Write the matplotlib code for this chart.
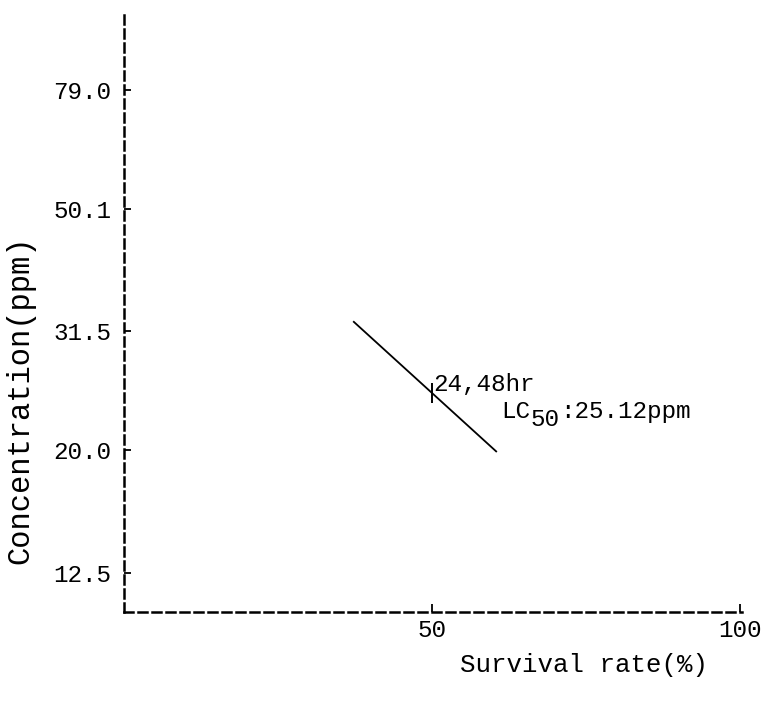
import matplotlib
matplotlib.use('Agg')
import matplotlib.pyplot as plt
import numpy as np

plt.rcParams['font.family'] = ['Liberation Mono', 'DejaVu Sans Mono']

# data
survival = [37.3, 60.4]          # %
conc = [32.6, 19.9]              # ppm
lc50_x = 50
yticks = [12.5, 20.0, 31.5, 50.1, 79.0]
xticks = [50, 100]

# LC50 point sits on the line at 50 % survival
lc50_y = np.exp(np.interp(lc50_x, survival, np.log(conc)))

W, H = 767, 708
fig = plt.figure(figsize=(W / 100, H / 100), dpi=100)
ax = fig.add_axes([124 / W, 1 - 612 / H, (742 - 124) / W, 602 / H])

ax.plot(survival, conc, color='black', lw=1.3)
ax.plot([lc50_x], [lc50_y], marker='|', ms=14, mew=1.4, color='black')

fs = 17.5
adv = 0.6 * fs  # monospace advance in points
ax.annotate('24,48hr', (lc50_x, lc50_y), xytext=(1, 1.5), textcoords='offset points',
            fontsize=fs, va='baseline', ha='left')
ax.annotate('LC', (lc50_x, lc50_y), xytext=(50, -18), textcoords='offset points',
            fontsize=fs, va='baseline', ha='left')
ax.annotate('50', (lc50_x, lc50_y), xytext=(50 + 2 * adv, -24), textcoords='offset points',
            fontsize=fs, va='baseline', ha='left')
ax.annotate(':25.12ppm', (lc50_x, lc50_y), xytext=(50 + 4 * adv, -18), textcoords='offset points',
            fontsize=fs, va='baseline', ha='left')

ax.set_yscale('log')
ax.set_ylim(10.79, 107.0)
ax.set_xlim(0, 100.3)
ax.set_yticks(yticks)
ax.set_yticklabels(['%.1f' % v for v in yticks])
ax.yaxis.set_minor_locator(matplotlib.ticker.NullLocator())
ax.set_xticks(xticks)
ax.set_xticklabels([str(v) for v in xticks])

for s in ['top', 'right']:
    ax.spines[s].set_visible(False)
for s in ['left', 'bottom']:
    ax.spines[s].set_linestyle((0, (3.6, 2.0)))
    ax.spines[s].set_linewidth(1.8)

ax.tick_params(axis='y', direction='in', length=5, width=1.3, labelsize=17.5, pad=9)
ax.tick_params(axis='x', direction='in', length=6, width=1.3, labelsize=17.5, pad=5)
ax.set_ylabel('Concentration(ppm)', fontsize=22)
ax.yaxis.set_label_coords(-(124 - 20) / 618, 1 - (400 - 10) / 602)
ax.set_xlabel('Survival rate(%)', fontsize=18.5)
ax.xaxis.set_label_coords((584 - 124) / 618, -(665 - 612) / 602)
ax.xaxis.label.set_va('center')
ax.yaxis.label.set_va('center')

fig.savefig('out.png', dpi=100)
